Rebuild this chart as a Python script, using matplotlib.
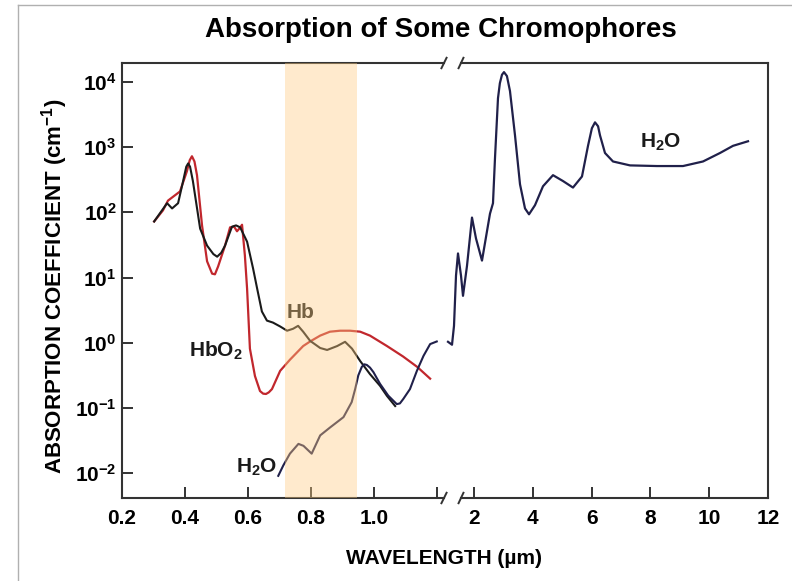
import matplotlib

matplotlib.use("Agg")
import matplotlib.pyplot as plt
from matplotlib.lines import Line2D

plt.rcParams.update({
    "font.family": "Liberation Sans",
    "font.weight": "bold",
    "mathtext.fontset": "custom",
    "mathtext.rm": "Liberation Sans:bold",
    "mathtext.it": "Liberation Sans:bold",
    "mathtext.bf": "Liberation Sans:bold",
    "mathtext.sf": "Liberation Sans:bold",
})

# --- values (wavelength in um, absorption in cm^-1, as log10) ---
hbo2_wl = [0.302, 0.330, 0.346, 0.384, 0.406, 0.415, 0.422, 0.430, 0.438, 0.454,
           0.470, 0.486, 0.495, 0.505, 0.527, 0.543, 0.556, 0.565, 0.574, 0.581,
           0.590, 0.597, 0.606, 0.622, 0.638, 0.648, 0.657, 0.666, 0.676, 0.702,
           0.733, 0.775, 0.797, 0.829, 0.860, 0.892, 0.924, 0.956, 0.987, 1.041,
           1.092, 1.137, 1.178]
hbo2_log = [1.86, 2.03, 2.18, 2.32, 2.63, 2.80, 2.86, 2.78, 2.57, 1.80,
            1.25, 1.06, 1.05, 1.17, 1.49, 1.77, 1.78, 1.71, 1.76, 1.81,
            1.34, 0.83, -0.09, -0.51, -0.74, -0.78, -0.785, -0.76, -0.71, -0.43,
            -0.26, -0.05, 0.02, 0.11, 0.17, 0.185, 0.185, 0.17, 0.11, -0.05,
            -0.21, -0.37, -0.55]

hb_wl = [0.302, 0.343, 0.359, 0.378, 0.394, 0.404, 0.410, 0.416, 0.425, 0.448,
         0.470, 0.490, 0.502, 0.515, 0.527, 0.549, 0.562, 0.575, 0.597, 0.616,
         0.629, 0.644, 0.660, 0.679, 0.702, 0.724, 0.743, 0.759, 0.775, 0.797,
         0.829, 0.851, 0.883, 0.908, 0.930, 0.956, 0.987, 1.019, 1.041, 1.067]
hb_log = [1.86, 2.14, 2.06, 2.14, 2.48, 2.70, 2.75, 2.70, 2.48, 1.75,
          1.49, 1.36, 1.32, 1.38, 1.49, 1.78, 1.80, 1.77, 1.55, 1.14,
          0.83, 0.48, 0.34, 0.31, 0.25, 0.185, 0.215, 0.26, 0.17, 0.03,
          -0.08, -0.11, -0.05, 0.015, -0.09, -0.28, -0.48, -0.66, -0.815, -0.97]

h2o_vis_wl = [0.696, 0.712, 0.733, 0.760, 0.776, 0.802, 0.829, 0.860, 0.903, 0.929,
              0.940, 0.950, 0.961, 0.969, 0.977, 0.987, 0.998, 1.019, 1.045, 1.072,
              1.082, 1.093, 1.114, 1.136, 1.157, 1.178, 1.199]
h2o_vis_log = [-2.04, -1.88, -1.70, -1.55, -1.58, -1.70, -1.42, -1.30, -1.14, -0.91,
               -0.71, -0.50, -0.37, -0.33, -0.34, -0.38, -0.45, -0.63, -0.81, -0.94,
               -0.93, -0.86, -0.71, -0.43, -0.20, -0.02, 0.02]

h2o_ir_wl = [1.116, 1.252, 1.32, 1.388, 1.456, 1.558, 1.626, 1.762, 1.932, 2.068,
             2.272, 2.442, 2.544, 2.646, 2.714, 2.816, 2.88, 2.952, 3.02, 3.12,
             3.224, 3.395, 3.565, 3.735, 3.871, 4.075, 4.347, 4.687, 5.027, 5.367,
             5.673, 5.878, 6.01, 6.116, 6.22, 6.286, 6.456, 6.728, 7.306, 8.224,
             9.109, 9.789, 10.367, 10.810, 11.320]
h2o_ir_log = [0.015, -0.03, 0.26, 1.03, 1.37, 1.03, 0.72, 1.18, 1.92, 1.60,
              1.26, 1.71, 1.98, 2.14, 2.83, 3.75, 3.98, 4.11, 4.15, 4.09,
              3.86, 3.18, 2.43, 2.06, 1.97, 2.11, 2.40, 2.57, 2.48, 2.38,
              2.55, 3.02, 3.29, 3.38, 3.32, 3.18, 2.91, 2.78, 2.72, 2.71,
              2.71, 2.78, 2.91, 3.02, 3.09]

band = (0.717, 0.946)  # shaded therapeutic window

left_xticks = [0.2, 0.4, 0.6, 0.8, 1.0, 1.2]
left_xlabels = ["0.2", "0.4", "0.6", "0.8", "1.0", ""]
right_xticks = [2, 4, 6, 8, 10, 12]
right_xlabels = ["2", "4", "6", "8", "10", "12"]
yticks = [1e-2, 1e-1, 1e0, 1e1, 1e2, 1e3, 1e4]
ylabels = ["10$^{-2}$", "10$^{-1}$", "10$^{0}$", "10$^{1}$", "10$^{2}$", "10$^{3}$", "10$^{4}$"]

RED = "#c1272d"
BLACK = "#1a1a1a"
NAVY = "#20204a"
FRAME = "#333333"
YLIM = (10 ** -2.38, 10 ** 4.29)

W, H = 792, 581
fig = plt.figure(figsize=(W / 100, H / 100), dpi=100)


def px_axes(x0, x1, y0, y1):
    return fig.add_axes([x0 / W, 1 - y1 / H, (x1 - x0) / W, (y1 - y0) / H])


def pow10(vals):
    return [10 ** v for v in vals]


axl = px_axes(122, 444, 63, 498)
axr = px_axes(461, 768, 63, 498)

axl.plot(hbo2_wl, pow10(hbo2_log), color=RED, lw=1.6, solid_joinstyle="round", zorder=2)
axl.plot(hb_wl, pow10(hb_log), color=BLACK, lw=1.5, solid_joinstyle="round", zorder=2)
axl.plot(h2o_vis_wl, pow10(h2o_vis_log), color=NAVY, lw=1.5, solid_joinstyle="round", zorder=2)
axr.plot(h2o_ir_wl, pow10(h2o_ir_log), color=NAVY, lw=1.6, solid_joinstyle="round",
         zorder=2, clip_on=False)

axl.axvspan(*band, color=(1.0, 0.80, 0.51), alpha=0.4, lw=0, zorder=4)

for ax in (axl, axr):
    ax.set_yscale("log")
    ax.set_ylim(*YLIM)
    ax.minorticks_off()
    for s in ax.spines.values():
        s.set_color(FRAME)
        s.set_linewidth(1.5)
    ax.tick_params(direction="in", length=8, width=1.4, color=FRAME,
                   labelsize=15, pad=8)

axl.set_xlim(0.2, 1.222)
axl.spines["right"].set_visible(False)
axl.set_xticks(left_xticks, left_xlabels)
axl.set_yticks(yticks, ylabels)
axl.tick_params(axis="y", pad=4)

axr.set_xlim(1.558, 12)
axr.spines["left"].set_visible(False)
axr.set_xticks(right_xticks, right_xlabels)
axr.set_yticks([])

# axis break marks
for ax, xpos in ((axl, 1.0), (axr, 0.0)):
    for yv in (0.0, 1.0):
        ax.add_line(Line2D([xpos - 0.008, xpos + 0.008], [yv - 0.012, yv + 0.012],
                           transform=ax.transAxes, color=FRAME, lw=1.4, clip_on=False))

# curve labels
axl.text(0.724, 10 ** 0.385, "Hb", fontsize=15, color=BLACK, ha="left", va="baseline", zorder=3)
axl.text(0.584, 10 ** -0.215, "HbO$_2$", fontsize=15, color=BLACK, ha="right", va="baseline")
axl.text(0.692, 10 ** -1.985, "H$_2$O", fontsize=15, color=BLACK, ha="right", va="baseline")
axr.text(8.36, 10 ** 2.985, "H$_2$O", fontsize=15, color=BLACK, ha="center", va="baseline")

fig.text(0.557, 1 - 37 / H, "Absorption of Some Chromophores", fontsize=20,
         ha="center", va="baseline")
fig.text(0.56, 1 - 564 / H, "WAVELENGTH (\u00b5m)", fontsize=15, ha="center", va="baseline")
fig.text(0.069, 0.508, "ABSORPTION COEFFICIENT (cm$^{-1}$)", fontsize=16,
         rotation=90, ha="center", va="center")

# thin outer border (top and left edges)
fig.add_artist(Line2D([18 / W, 1], [1 - 5 / H, 1 - 5 / H], transform=fig.transFigure,
                      color="#b0b0b0", lw=1))
fig.add_artist(Line2D([18 / W, 18 / W], [0, 1 - 5 / H], transform=fig.transFigure,
                      color="#b0b0b0", lw=1))

fig.savefig("out.png", dpi=100)
